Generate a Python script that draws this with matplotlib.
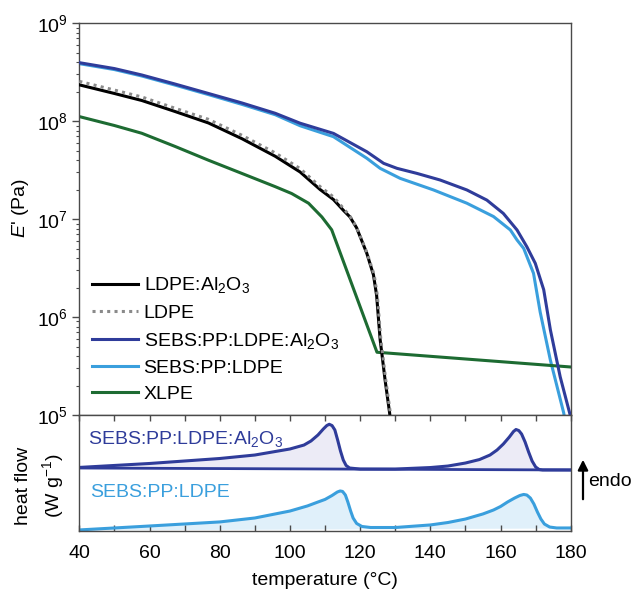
import matplotlib
matplotlib.use("Agg")
import matplotlib.pyplot as plt
import numpy as np
from matplotlib.patches import FancyArrowPatch
from matplotlib.ticker import LogLocator, MultipleLocator, NullFormatter

plt.rcParams["font.family"] = ["Liberation Sans", "DejaVu Sans"]
plt.rcParams["mathtext.fontset"] = "custom"
plt.rcParams["mathtext.rm"] = "Liberation Sans"
plt.rcParams["mathtext.it"] = "Liberation Sans:italic"
plt.rcParams["font.size"] = 14

# storage modulus E' (Pa) vs temperature (C)
t_ldpe_al = [40, 50, 57.8, 67, 76.8, 86.3, 95.8, 102.9, 108.6, 112.4, 115.2,
             117.1, 119, 121.9, 123.8, 124.7, 125.7, 127.1, 128.4, 128.6]
e_ldpe_al = [2.34e8, 1.91e8, 1.62e8, 1.26e8, 9.55e7, 6.61e7, 4.37e7, 3.02e7,
             2.0e7, 1.58e7, 1.23e7, 1.05e7, 8.13e6, 4.47e6, 2.69e6, 1.66e6,
             5.89e5, 2.29e5, 1.05e5, 9.0e4]

t_ldpe = [40, 50, 57.8, 67, 76.8, 86.3, 95.8, 102.9, 108.6, 112.4, 115.2,
          117.1, 119, 122.0, 124.0, 124.9, 125.9, 127.3, 128.6, 128.8]
e_ldpe = [2.54e8, 2.07e8, 1.76e8, 1.36e8, 1.04e8, 7.16e7, 4.73e7, 3.27e7,
          2.14e7, 1.68e7, 1.29e7, 1.07e7, 8.2e6, 4.47e6, 2.69e6, 1.66e6,
          5.89e5, 2.29e5, 1.05e5, 9.0e4]

t_blend_al = [40, 50, 57.8, 67, 76.8, 86.3, 95.8, 102.9, 112.4, 121.9, 126.7,
              130.5, 136.2, 142.8, 150.4, 156.1, 160.8, 164.7, 167.5, 169.9,
              172.3, 174.2, 177.0, 180]
e_blend_al = [3.94e8, 3.43e8, 2.95e8, 2.40e8, 1.91e8, 1.53e8, 1.20e8, 9.5e7,
              7.48e7, 4.86e7, 3.70e7, 3.29e7, 2.92e7, 2.50e7, 1.98e7, 1.56e7,
              1.14e7, 7.73e6, 5.21e6, 3.53e6, 1.9e6, 7.4e5, 2.45e5, 9.5e4]

t_blend = [40, 50, 57.8, 67, 76.8, 86.3, 95.8, 102.9, 112.4, 121.9, 125.7,
           131.4, 140.9, 150.4, 158.0, 162.8, 164.7, 166.6, 169.4, 171.3,
           174.2, 178.0, 178.2]
e_blend = [3.85e8, 3.35e8, 2.88e8, 2.34e8, 1.86e8, 1.48e8, 1.16e8, 8.95e7,
           6.92e7, 4.17e7, 3.29e7, 2.60e7, 1.98e7, 1.45e7, 1.06e7, 7.73e6,
           6.11e6, 5.01e6, 2.79e6, 1.12e6, 3.63e5, 1.05e5, 9.5e4]

t_xlpe = [40, 50, 57.8, 67.3, 76.8, 86.3, 95.8, 100.5, 105.3, 109.1, 111.9,
          124.8, 180]
e_xlpe = [1.11e8, 9.0e7, 7.50e7, 5.50e7, 3.98e7, 2.92e7, 2.14e7, 1.82e7,
          1.45e7, 1.05e7, 7.76e6, 4.37e5, 3.09e5]

# DSC heat flow (arbitrary, offset traces)
t_dsc_al = [40, 60, 80, 90, 100, 104, 106, 108, 109.5, 110.5, 111.2, 112, 112.8,
            113.6, 114.4, 115.2, 116, 117, 120, 130, 140, 145, 150, 154, 157,
            159, 160.8, 162.5, 163.7, 164.4, 165.2, 166, 167, 168, 169, 170,
            171, 172, 180]
hf_dsc_al = [0.548, 0.582, 0.625, 0.655, 0.707, 0.741, 0.776, 0.828, 0.879,
             0.909, 0.920, 0.909, 0.871, 0.784, 0.690, 0.612, 0.565, 0.543,
             0.534, 0.534, 0.547, 0.560, 0.586, 0.616, 0.655, 0.698, 0.750,
             0.810, 0.858, 0.875, 0.866, 0.836, 0.767, 0.681, 0.603, 0.552,
             0.530, 0.526, 0.526]
base_t_al = [40, 180]
base_hf_al = [0.543, 0.526]

t_dsc = [40, 60, 80, 90, 100, 105, 108, 110, 112, 113.5, 114.3, 115, 115.8,
         116.5, 117.3, 118, 119, 120.5, 123, 130, 140, 145, 150, 155, 158, 160,
         162, 164, 165.5, 166.6, 167.5, 168.5, 169.5, 170.5, 171.5, 172.5, 174,
         176, 180]
hf_dsc = [0.009, 0.043, 0.078, 0.112, 0.172, 0.216, 0.250, 0.272, 0.306, 0.336,
          0.345, 0.341, 0.310, 0.250, 0.172, 0.112, 0.065, 0.039, 0.030, 0.030,
          0.052, 0.073, 0.103, 0.147, 0.181, 0.211, 0.250, 0.284, 0.306, 0.315,
          0.310, 0.284, 0.233, 0.164, 0.103, 0.060, 0.034, 0.026, 0.026]
base_t = [40, 180]
base_hf = [0.009, 0.026]

c_black = "#000000"
c_grey = "#8a8a8a"
c_dark = "#2f3c9a"
c_light = "#3a9fdd"
c_green = "#1d6b32"
spine_c = "#4a4a4a"

fig = plt.figure(figsize=(6.35, 5.89), dpi=100)
ax1 = fig.add_axes([0.1249, 0.2954, 0.7739, 0.6655])
ax2 = fig.add_axes([0.1249, 0.0985, 0.7739, 0.1969])

lw = 2.2
ax1.plot(t_ldpe_al, e_ldpe_al, color=c_black, lw=lw, label="LDPE:Al$_2$O$_3$", zorder=3)
ax1.plot(t_ldpe, e_ldpe, color=c_grey, lw=2.2, ls=(0, (1, 1.4)), label="LDPE", zorder=4)
ax1.plot(t_blend, e_blend, color=c_light, lw=lw, zorder=2)
ax1.plot(t_blend_al, e_blend_al, color=c_dark, lw=lw, label="SEBS:PP:LDPE:Al$_2$O$_3$", zorder=3)
ax1.plot([], [], color=c_light, lw=lw, label="SEBS:PP:LDPE")
ax1.plot(t_xlpe, e_xlpe, color=c_green, lw=lw, label="XLPE", zorder=2)

ax1.set_yscale("log")
ax1.set_xlim(40, 180)
ax1.set_ylim(1e5, 1e9)
ax1.yaxis.set_major_locator(LogLocator(base=10, numticks=10))
ax1.yaxis.set_minor_locator(LogLocator(base=10, subs=np.arange(2, 10), numticks=20))
ax1.yaxis.set_minor_formatter(NullFormatter())
ax1.tick_params(axis="y", which="major", direction="out", length=5, width=1,
                color=spine_c, pad=3, labelsize=14)
ax1.tick_params(axis="y", which="minor", direction="out", length=2.5, width=0.8,
                color=spine_c)
ax1.tick_params(axis="x", which="both", bottom=False, labelbottom=False)
ax1.set_ylabel("$E$' (Pa)", fontsize=14)
ax1.yaxis.set_label_coords(-0.098, 0.528)

ax1.legend(loc="lower left", bbox_to_anchor=(0.026, 0.03), frameon=False,
           borderaxespad=0, borderpad=0, handlelength=2.37,
           handletextpad=0.28, labelspacing=0.45, fontsize=14)

# DSC panel
ax2.fill_between(t_dsc_al, hf_dsc_al, np.interp(t_dsc_al, base_t_al, base_hf_al),
                 color="#ecebf6", lw=0)
ax2.fill_between(t_dsc, hf_dsc, np.interp(t_dsc, base_t, base_hf),
                 color="#e0f0fa", lw=0)
ax2.plot(base_t_al, base_hf_al, color=c_dark, lw=2.0)
ax2.plot(t_dsc_al, hf_dsc_al, color=c_dark, lw=2.2)
ax2.plot(t_dsc, hf_dsc, color=c_light, lw=2.2)
ax2.text(0.0177, 0.79, "SEBS:PP:LDPE:Al$_2$O$_3$", color=c_dark, fontsize=14,
         transform=ax2.transAxes, ha="left", va="center")
ax2.text(0.0218, 0.33, "SEBS:PP:LDPE", color=c_light, fontsize=14,
         transform=ax2.transAxes, ha="left", va="center")

ax2.set_xlim(40, 180)
ax2.set_ylim(0, 1)
ax2.xaxis.set_major_locator(MultipleLocator(20))
ax2.xaxis.set_minor_locator(MultipleLocator(10))
ax2.tick_params(axis="x", which="both", direction="in", top=True, bottom=True,
                length=4, width=1, color=spine_c)
ax2.tick_params(axis="x", which="major", pad=10, labelsize=14)
ax2.set_yticks([])
ax2.set_xlabel("temperature (°C)", fontsize=14, labelpad=7)
ax2.set_ylabel("heat flow\n(W g$^{-1}$)", fontsize=14, linespacing=1.4)
ax2.yaxis.set_label_coords(-0.028, 0.39)

for ax in (ax1, ax2):
    for sp in ax.spines.values():
        sp.set_color(spine_c)
        sp.set_linewidth(1.0)

fig.patches.append(FancyArrowPatch(
    (583 / 635, 1 - 502 / 589), (583 / 635, 1 - 457 / 589),
    transform=fig.transFigure, arrowstyle="-|>,head_length=6,head_width=3",
    color="black", lw=1.6, mutation_scale=1))
fig.text(588 / 635, 1 - 482 / 589, "endo", fontsize=14, ha="left", va="center")

fig.savefig("out.png", dpi=100)
